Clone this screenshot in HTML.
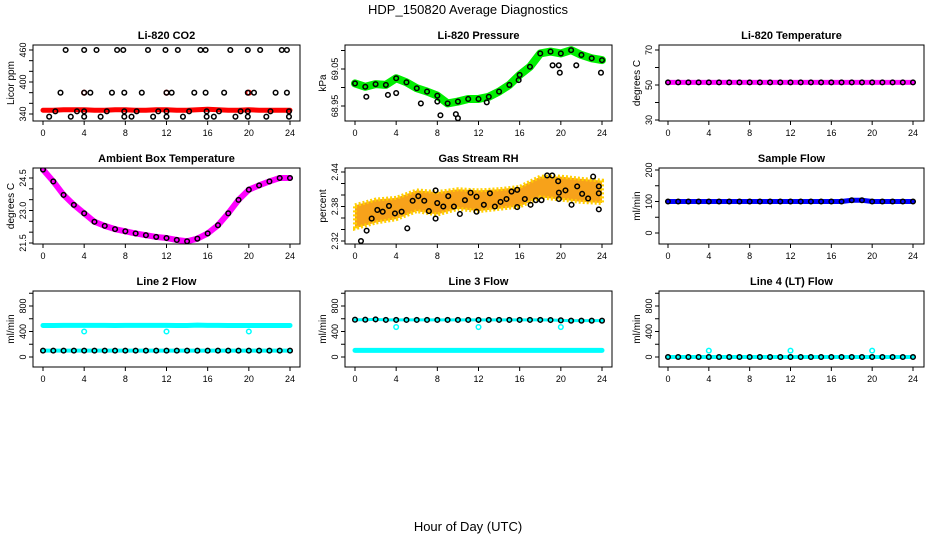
<!DOCTYPE html>
<html><head><meta charset="utf-8"><style>
body{margin:0;background:#fff;}
svg text{font-family:"Liberation Sans",sans-serif;fill:#000;}
</style></head><body>
<svg id="chart" width="936" height="540" viewBox="0 0 936 540" xmlns="http://www.w3.org/2000/svg">
<text x="468" y="14" font-size="13" text-anchor="middle">HDP_150820  Average Diagnostics</text>
<text x="468" y="531" font-size="13" text-anchor="middle">Hour of Day (UTC)</text>
</svg>
<script>
// ---- data ----
const hours = [0,1,2,3,4,5,6,7,8,9,10,11,12,13,14,15,16,17,18,19,20,21,22,23,24];
const xTicks = [0,4,8,12,16,20,24];
const co2Band = [347,347,348,348,348,347,347,348,348,347,347,348,348,347,347,348,349,348,347,347,348,347,347,347,347];
const co2HighH = [2.2,4.0,5.2,7.2,7.8,10.2,11.9,13.1,15.3,15.8,18.2,19.9,21.1,23.2,23.7];
const co2MidH = [1.7,4.0,4.6,6.7,7.9,9.6,12.0,12.5,14.7,15.8,17.6,19.9,20.5,22.6,23.7];
const co2LowH = [1.2,3.3,4.0,6.2,7.9,9.1,11.2,12.0,14.2,15.9,17.1,19.2,19.9,22.1,23.9];
const co2LowestH = [0.6,2.7,4.0,5.6,7.9,8.6,10.7,12.0,13.6,15.9,16.6,18.7,19.9,21.7,23.9];
const co2Levels = [460,380,345,335];
const co2RedH = [4,12,20];
const pressBand = [69.011,69.002,69.009,69.007,69.025,69.014,68.998,68.989,68.978,68.957,68.962,68.969,68.969,68.975,68.989,69.007,69.034,69.056,69.092,69.097,69.092,69.101,69.088,69.079,69.074];
const pressOutH = [1.1,3.2,4.0,6.4,8.0,8.3,9.8,10.0,12.8,15.9,19.2,19.8,21.5,23.9,19.9];
const pressOutV = [68.975,68.980,68.985,68.957,68.962,68.925,68.928,68.917,68.960,69.020,69.060,69.060,69.060,69.040,69.040];
const tempBand = [51.5,51.5,51.5,51.5,51.5,51.5,51.5,51.5,51.5,51.5,51.5,51.5,51.5,51.5,51.5,51.5,51.5,51.5,51.5,51.5,51.5,51.5,51.5,51.5,51.5];
const ambBand = [24.89,24.34,23.72,23.26,22.87,22.48,22.29,22.14,22.04,21.94,21.86,21.78,21.73,21.64,21.58,21.70,21.94,22.32,22.87,23.49,23.96,24.16,24.34,24.50,24.50];
const rhBandH = [0,2,4,6,8,10,12,14,16,18,20,22,24];
const rhUpper = [2.382,2.392,2.395,2.408,2.405,2.410,2.408,2.410,2.414,2.432,2.432,2.428,2.425];
const rhLower = [2.342,2.352,2.358,2.372,2.366,2.376,2.372,2.376,2.380,2.396,2.392,2.388,2.386];
const rhPtsH = [0.58,1.13,1.62,2.17,2.69,3.30,3.88,4.53,5.08,5.60,6.15,6.73,7.18,7.83,7.83,7.99,8.58,9.06,9.61,10.19,10.68,11.23,11.81,11.81,12.52,13.11,13.59,14.14,14.72,15.21,15.76,15.76,16.50,17.06,17.57,18.12,18.67,19.16,19.74,19.81,19.81,20.45,21.04,21.59,22.07,22.65,23.14,23.69,23.69,23.69];
const rhPtsV = [2.320,2.338,2.359,2.374,2.371,2.381,2.368,2.371,2.342,2.390,2.398,2.390,2.372,2.408,2.359,2.386,2.380,2.398,2.380,2.367,2.391,2.404,2.397,2.371,2.383,2.403,2.380,2.388,2.393,2.406,2.409,2.379,2.393,2.383,2.391,2.391,2.434,2.434,2.424,2.404,2.393,2.408,2.383,2.415,2.402,2.394,2.432,2.415,2.403,2.375];
const sampleBand = [100,100,100,100,100,100,100,100,100,100,100,100,100,100,100,100,100,100,104,104,100,100,100,100,100];
const line2High = [495,495,497,497,497,497,496,495,497,497,497,497,497,495,495,500,497,497,495,495,495,495,495,495,495];
const line2Low = [100,100,100,100,100,100,100,100,100,100,100,100,100,100,100,100,100,100,100,100,100,100,100,100,100];
const line3High = [585,585,590,582,582,582,582,582,582,582,582,582,582,582,582,582,582,582,582,580,575,570,570,570,570];
const line3Low = [104,104,104,104,104,104,104,104,104,104,104,104,104,104,104,104,104,104,104,104,104,104,104,104,104];
const line4Vals = [0,0,0,0,0,0,0,0,0,0,0,0,0,0,0,0,0,0,0,0,0,0,0,0,0];
const spikeH = [4,12,20];
const line2Spike = [400,400,400];
const line3Spike = [470,470,470];
const line4Spike = [100,100,100];

// ---- layout ----
const svg = document.getElementById('chart');
const NS = 'http://www.w3.org/2000/svg';
const cols = [{L:33,R:300,x0:43,x24:290},{L:345,R:612,x0:355,x24:602},{L:659,R:924,x0:668,x24:913}];
const rows = [{T:45,B:121},{T:168,B:244},{T:291,B:367}];
function mk(tag, attrs, parent){const e=document.createElementNS(NS,tag);for(const k in attrs)e.setAttribute(k,attrs[k]);(parent||svg).appendChild(e);return e;}

function panel(ci, ri, name, title, ylab, v1, p1, v2, p2, ticks, labels, draw){
  const c=cols[ci], r=rows[ri];
  const g=mk('g',{});
  
  
  const xs=h=>c.x0+(c.x24-c.x0)*h/24;
  const ys=v=>p1+(v-v1)*(p2-p1)/(v2-v1);
  const clip=mk('clipPath',{id:'clip'+ci+ri},g);
  mk('rect',{x:c.L,y:r.T,width:c.R-c.L,height:r.B-r.T},clip);
  const pg=mk('g',{'clip-path':'url(#clip'+ci+ri+')'},g);
  
  
  draw(pg,xs,ys);
  const box=mk('rect',{x:c.L,y:r.T,width:c.R-c.L,height:r.B-r.T,fill:'none',stroke:'#000','stroke-width':1},g);
  
  
  const t=mk('text',{x:(c.L+c.R)/2,y:r.T-6,'font-size':11,'font-weight':'bold','text-anchor':'middle'},g);
  t.textContent=title;
  
  
  const yl=mk('text',{transform:`translate(${c.L-19},${(r.T+r.B)/2}) rotate(-90)`,'font-size':10,'text-anchor':'middle'},g);
  yl.textContent=ylab;
  
  
  xTicks.forEach(h=>{
    const x=xs(h);
    mk('line',{x1:x,x2:x,y1:r.B,y2:r.B+4,stroke:'#000'},g);
    const tl=mk('text',{x:x,y:r.B+15,'font-size':9,'text-anchor':'middle'},g);
    tl.textContent=h;
    
    
  });
  ticks.forEach(v=>{
    const y=ys(v);
    mk('line',{x1:c.L-4,x2:c.L,y1:y,y2:y,stroke:'#000'},g);
  });
  labels.forEach(s=>{
    const y=ys(parseFloat(s));
    const tl=mk('text',{transform:`translate(${c.L-7},${y}) rotate(-90)`,'font-size':9,'text-anchor':'middle'},g);
    tl.textContent=s;
    
    
  });
}
function band(g,xs,ys,hx,vals,color,w){
  const p=mk('polyline',{points:hx.map((h,i)=>xs(h)+','+ys(vals[i])).join(' '),fill:'none',stroke:color,'stroke-width':w,'stroke-linejoin':'round','stroke-linecap':'round'},g);
  
  
}
function pts(g,xs,ys,hx,vals,color){
  hx.forEach((h,i)=>{
    const v=Array.isArray(vals)?vals[i]:vals;
    const c=mk('circle',{cx:xs(h),cy:ys(v),r:2.3,fill:'none',stroke:color,'stroke-width':1.5},g);
    
    
  });
}

panel(0,0,'co2','Li-820 CO2','Licor ppm',340,114,460,50,[340,360,380,400,420,440,460],['340','400','460'],(g,xs,ys)=>{
  band(g,xs,ys,hours,co2Band,'#ff0000',5);
  pts(g,xs,ys,co2RedH,380,'#ff0000');
  [co2HighH,co2MidH,co2LowH,co2LowestH].forEach((a,i)=>pts(g,xs,ys,a,co2Levels[i],'#000'));
});
panel(1,0,'pressure','Li-820 Pressure','kPa',68.95,106,69.05,69,[68.95,69.0,69.05,69.1],['68.95','69.05'],(g,xs,ys)=>{
  band(g,xs,ys,hours,pressBand,'#00ee00',8);
  pts(g,xs,ys,hours,pressBand,'#000');
  pts(g,xs,ys,pressOutH,pressOutV,'#000');
});
panel(2,0,'li820-temperature','Li-820 Temperature','degrees C',30,120,70,50,[30,40,50,60,70],['30','50','70'],(g,xs,ys)=>{
  band(g,xs,ys,hours,tempBand,'#ff00ff',5);
  pts(g,xs,ys,hours,tempBand,'#000');
});
panel(0,1,'ambient-temperature','Ambient Box Temperature','degrees C',21.5,243,24.5,178,[21.5,22,22.5,23,23.5,24,24.5],['21.5','23.0','24.5'],(g,xs,ys)=>{
  band(g,xs,ys,hours,ambBand,'#ff00ff',6);
  pts(g,xs,ys,hours,ambBand,'#000');
});
panel(1,1,'gas-stream-rh','Gas Stream RH','percent',2.32,241,2.44,172,[2.32,2.34,2.36,2.38,2.40,2.42,2.44],['2.32','2.38','2.44'],(g,xs,ys)=>{
  const poly=rhBandH.map((h,i)=>xs(h)+','+ys(rhUpper[i])).concat(rhBandH.slice().reverse().map((h,i)=>xs(h)+','+ys(rhLower[rhBandH.length-1-i])));
  const p=mk('polygon',{points:poly.join(' '),fill:'#f7a21a',stroke:'#ffd000','stroke-width':4,'stroke-dasharray':'2 2'},g);
  
  
  pts(g,xs,ys,rhPtsH,rhPtsV,'#000');
});
panel(2,1,'sample-flow','Sample Flow','ml/min',0,233,200,170,[0,50,100,150,200],['0','100','200'],(g,xs,ys)=>{
  band(g,xs,ys,hours,sampleBand,'#0000ff',5);
  pts(g,xs,ys,hours,sampleBand,'#000');
});
panel(0,2,'line2-flow','Line 2 Flow','ml/min',0,357,800,306,[0,200,400,600,800,1000],['0','400','800'],(g,xs,ys)=>{
  band(g,xs,ys,hours,line2High,'#00ffff',5);
  band(g,xs,ys,hours,line2Low,'#00ffff',4);
  pts(g,xs,ys,hours,line2Low,'#000');
  pts(g,xs,ys,spikeH,line2Spike,'#00ffff');
});
panel(1,2,'line3-flow','Line 3 Flow','ml/min',0,357,800,306,[0,200,400,600,800,1000],['0','400','800'],(g,xs,ys)=>{
  band(g,xs,ys,hours,line3Low,'#00ffff',5);
  band(g,xs,ys,hours,line3High,'#00ffff',3);
  pts(g,xs,ys,hours,line3High,'#000');
  pts(g,xs,ys,spikeH,line3Spike,'#00ffff');
});
panel(2,2,'line4-flow','Line 4 (LT) Flow','ml/min',0,357,800,306,[0,200,400,600,800,1000],['0','400','800'],(g,xs,ys)=>{
  band(g,xs,ys,hours,line4Vals,'#00ffff',4);
  pts(g,xs,ys,hours,line4Vals,'#000');
  pts(g,xs,ys,spikeH,line4Spike,'#00ffff');
});
</script>
</body></html>
